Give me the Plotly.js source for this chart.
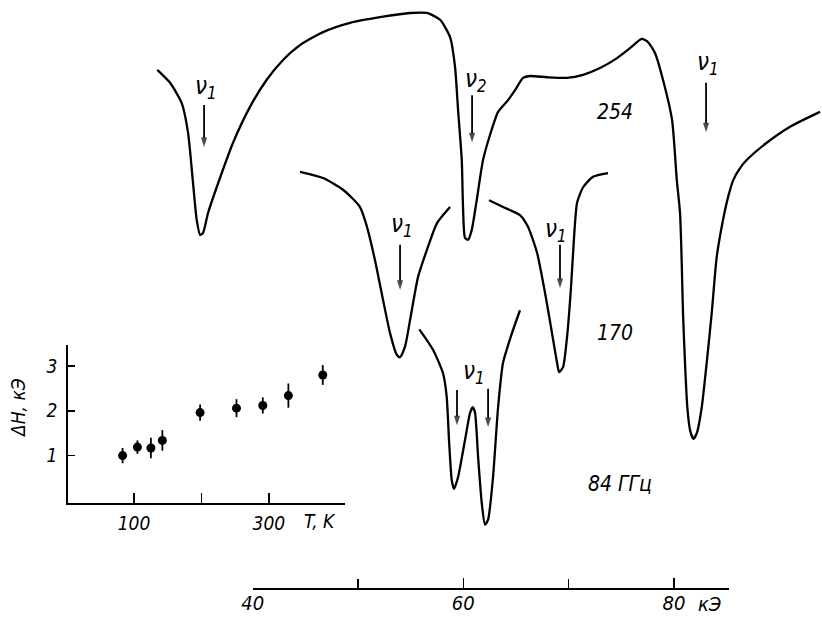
<!DOCTYPE html>
<html><head><meta charset="utf-8">
<script src="https://cdn.plot.ly/plotly-3.0.1.min.js"></script>
<style>html,body{margin:0;padding:0;background:#fff}#plot{width:822px;height:618px}</style>
</head><body><div id="plot"></div>
<script>
// Resonance absorption spectra, field H in kOe, signal in arbitrary units (curves are offset)
const H254 = [30.94,32.15,33.26,33.86,34.33,34.68,35.00,35.28,35.75,36.58,38.13,39.74,41.33,42.88,44.49,46.68,49.24,52.37,54.94,56.55,57.79,58.74,59.21,59.50,59.85,59.97,60.16,60.45,60.80,61.27,61.87,62.54,63.30,64.25,64.91,65.67,66.33,67.95,69.85,71.37,72.98,74.60,75.83,76.94,77.54,78.21,78.96,79.82,80.27,80.58,80.74,80.86,81.05,81.27,81.53,81.84,82.17,82.64,83.11,83.59,84.06,84.66,85.14,85.64,86.28,86.91,88.81,91.03,93.87];
const S254 = [88.7,86.6,83.3,78.5,70.4,64.4,62.0,62.3,65.5,69.7,76.9,82.7,87.1,90.3,92.7,94.8,96.3,97.3,97.9,97.9,96.8,94.0,89.2,82.2,74.1,66.5,61.5,61.2,62.8,67.6,74.1,78.2,81.9,83.8,85.4,87.4,87.7,87.5,87.4,87.9,89.0,90.6,92.2,93.7,93.2,91.4,87.1,80.6,70.9,65.5,57.4,49.4,41.3,34.1,30.4,29.0,29.9,34.1,41.3,49.4,58.4,64.4,68.1,70.9,72.8,74.1,76.9,79.5,81.9];
const H170 = [44.49,46.68,48.58,50.19,50.85,51.61,52.37,53.04,53.68,53.99,54.46,54.94,55.70,56.55,57.50,58.74,null,62.44,63.77,65.38,66.14,67.00,67.76,68.42,68.90,69.09,69.47,69.85,70.22,70.51,70.80,71.37,72.32,73.74];
const S170 = [72.2,71.2,69.3,66.5,63.3,57.9,51.5,46.1,42.6,42.2,43.9,48.2,55.2,59.6,63.9,66.5,null,67.6,66.5,65.2,63.3,59.1,52.6,46.1,41.3,39.8,40.6,45.5,53.4,61.5,67.2,69.7,71.4,72.0];
const H84 = [55.82,57.12,58.07,58.42,58.64,58.90,59.12,59.50,60.16,60.64,60.89,61.11,61.40,61.75,62.06,62.35,62.82,63.30,63.77,64.62,65.38];
const S84 = [46.7,43.4,39.6,35.8,28.8,22.3,20.9,22.8,28.8,33.2,34.1,33.2,26.1,18.6,15.1,15.9,22.8,34.1,41.3,46.1,49.8];
// resonance markers (arrows): field, arrow tail level, arrow tip level
const arrowH    = [35.38, 60.83, 83.05, 53.99, 69.18, 59.40, 62.35];
const arrowTail = [83.0, 84.6, 86.6, 60.4, 60.4, 36.9, 37.1];
const arrowTip  = [76.2, 77.0, 78.6, 53.1, 53.4, 31.2, 30.9];
const fieldTicks = [40,60,80];
const fieldMinor = [50,70];

// Inset: line width vs temperature
const T_K = [83,105,125,142,198,252,291,329,380];
const dH = [1.00,1.19,1.17,1.34,1.96,2.06,2.12,2.34,2.80];
const dHerr = [0.17,0.15,0.23,0.23,0.18,0.20,0.18,0.27,0.22];
const tempTicks = [100,300];
const tempMinor = [200];
const dHTicks = [1,2,3];

const FONT = 'DejaVu Sans Condensed, DejaVu Sans, Liberation Sans, sans-serif';
const ital = (size) => ({family: FONT, size: size, color: '#000', style: 'italic'});
const curveLine = {color: '#000', width: 2.3, shape: 'spline', smoothing: 0.6};

const ax = [], ay = [], asz = [];
arrowH.forEach((h, i) => { ax.push(h, h, null); ay.push(arrowTail[i], arrowTip[i], null); asz.push(0, 10, 0); });

const traces = [
  {x: H254, y: S254, mode: 'lines', line: curveLine, xaxis: 'x', yaxis: 'y', hoverinfo: 'skip'},
  {x: H170, y: S170, mode: 'lines', connectgaps: false, line: curveLine, xaxis: 'x', yaxis: 'y', hoverinfo: 'skip'},
  {x: H84, y: S84, mode: 'lines', line: curveLine, xaxis: 'x', yaxis: 'y', hoverinfo: 'skip'},
  {x: ax, y: ay, mode: 'lines+markers', connectgaps: false, line: {color: '#000', width: 1.8},
   marker: {symbol: 'arrow', angleref: 'previous', size: asz, color: '#000', line: {width: 0}},
   xaxis: 'x', yaxis: 'y', hoverinfo: 'skip'},
  {x: fieldTicks, y: fieldTicks.map(() => null), mode: 'lines', xaxis: 'x2', yaxis: 'y', hoverinfo: 'skip'},
  {x: T_K, y: dH, mode: 'markers', marker: {color: '#000', size: 9},
   error_y: {type: 'data', array: dHerr, visible: true, color: '#000', thickness: 1.8, width: 0},
   xaxis: 'x3', yaxis: 'y3', hoverinfo: 'skip'}
];

function label(px, py, txt, size, angle) {
  return {x: px / 822, y: 1 - py / 618, xref: 'paper', yref: 'paper', text: txt,
    showarrow: false, font: ital(size), xanchor: 'center', yanchor: 'middle', textangle: angle || 0};
}
const nu1 = 'ν<sub>1</sub>', nu2 = 'ν<sub>2</sub>';

const layout = {
  width: 822, height: 618,
  margin: {l: 0, r: 0, t: 0, b: 0},
  paper_bgcolor: '#fff', plot_bgcolor: 'rgba(0,0,0,0)',
  showlegend: false,
  xaxis: {domain: [0, 1], range: [16.0, 94.06], visible: false, fixedrange: true},
  yaxis: {domain: [0, 1], range: [0, 100], visible: false, fixedrange: true},
  xaxis2: {domain: [252.7 / 822, 729 / 822], range: [40, 85.23], anchor: 'free', position: 30 / 618,
    showline: true, linecolor: '#000', linewidth: 1.6, showgrid: false, zeroline: false,
    ticks: 'inside', ticklen: 10, tickwidth: 1.6, tickcolor: '#000',
    tickvals: fieldTicks, tickfont: ital(20), ticklabelstandoff: -4,
    minor: {tickvals: fieldMinor, ticks: 'inside', ticklen: 9, tickwidth: 1.6, tickcolor: '#000', showgrid: false}},
  xaxis3: {domain: [68 / 822, 345 / 822], range: [2, 413], anchor: 'y3',
    showline: true, linecolor: '#000', linewidth: 1.8, showgrid: false, zeroline: false,
    ticks: 'inside', ticklen: 10, tickwidth: 1.6, tickcolor: '#000',
    tickvals: tempTicks, tickfont: ital(19), ticklabelstandoff: 2,
    minor: {tickvals: tempMinor, ticks: 'inside', ticklen: 10, tickwidth: 1.6, tickcolor: '#000', showgrid: false}},
  yaxis3: {domain: [(618 - 503) / 618, (618 - 345) / 618], range: [-0.058, 3.47], anchor: 'x3',
    showline: true, linecolor: '#000', linewidth: 1.8, showgrid: false, zeroline: false,
    ticks: 'inside', ticklen: 7, tickwidth: 1.6, tickcolor: '#000',
    tickvals: dHTicks, tickfont: ital(19), ticklabelstandoff: 5},
  annotations: [
    label(206, 88, nu1, 24),
    label(476, 80, nu2, 24),
    label(708, 64, nu1, 24),
    label(402, 225, nu1, 24),
    label(556, 230, nu1, 24),
    label(474, 372, nu1, 24),
    label(615, 112, '254', 21),
    label(615, 333, '170', 21),
    label(620, 484, '84 ГГц', 21),
    label(320, 521, 'T, K', 19),
    label(710, 604, 'кЭ', 20),
    label(18, 408, 'ΔH, кЭ', 19, -90)
  ]
};

Plotly.newPlot('plot', traces, layout, {staticPlot: true, displayModeBar: false});
</script></body></html>
